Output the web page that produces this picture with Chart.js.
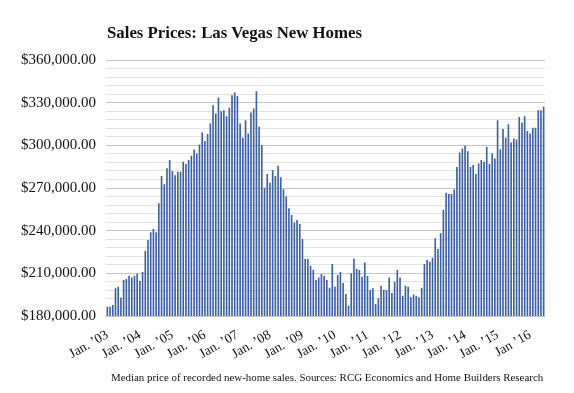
<!DOCTYPE html>
<html>
<head>
<meta charset="utf-8">
<script src="https://cdn.jsdelivr.net/npm/chart.js@4.4.1/dist/chart.umd.min.js"></script>
<style>
  html, body { margin: 0; padding: 0; background: #fff; }
  #wrap { position: relative; width: 574px; height: 393px; }
  #title {
    position: absolute; left: 107px; top: 23px;
    font: bold 16.8px "Liberation Serif", Georgia, serif; color: #111;
  }
  #note {
    position: absolute; left: 111px; top: 371px;
    font: 10.9px "Liberation Serif", Georgia, serif; color: #111; white-space: nowrap;
  }
</style>
</head>
<body>
<div id="wrap">
  <canvas id="chart" width="574" height="393"></canvas>
  <div id="title">Sales Prices: Las Vegas New Homes</div>
  <div id="note">Median price of recorded new-home sales. Sources: RCG Economics and Home Builders Research</div>
</div>
<script>
// monthly categories, Jan 2003 .. Jun 2016
const firstYear = 2003
const monthCount = 162
const months = []
for (let i = 0; i < monthCount; i++) {
    const y = firstYear + Math.floor(i / 12)
    const m = (i % 12) + 1
    months.push(`${y}-${String(m).padStart(2, '0')}`)
}

// labels shown under each January
const janLabels = [
    'Jan. ’03', 'Jan. ’04', 'Jan. ’05', 'Jan. ’06', 'Jan. ’07',
    'Jan. ’08', 'Jan. ’09', 'Jan. ’10', 'Jan. ’11', 'Jan. ’12',
    'Jan. ’13', 'Jan. ’14', 'Jan. ’15', 'Jan ’16',
]

// median price (USD)
const prices = [
    // 2003
    186500, 186500, 187700, 199500, 200600, 193000, 205300, 206000, 208300, 207000, 208300, 209700,
    // 2004
    204600, 211000, 225700, 233400, 238800, 241100, 238800, 259200, 278400, 272700, 283800, 289600,
    // 2005
    281900, 279000, 281400, 281400, 288400, 286800, 289600, 292600, 297100, 294300, 300600, 309000,
    // 2006
    303000, 307900, 315400, 328200, 322400, 333600, 324000, 324700, 320500, 326400, 335200, 337200,
    // 2007
    334600, 315400, 305300, 317700, 308400, 323100, 325900, 338100, 313000, 300100, 270100, 279800,
    // 2008
    273700, 282600, 278400, 285600, 277500, 269200, 264100, 255700, 251000, 245800, 247500, 244600,
    // 2009
    234100, 220000, 220000, 215400, 212300, 205300, 207000, 209500, 208300, 205300, 199900, 216500,
    // 2010
    200600, 208800, 210900, 203200, 195500, 187200, 210000, 220500, 213300, 212300, 207600, 217700,
    // 2011
    208100, 198300, 199500, 188400, 192400, 201300, 198300, 198300, 207000, 196200, 204100, 212300,
    // 2012
    207000, 194300, 201300, 200600, 193100, 195200, 194300, 193100, 199900, 216500, 219300, 218200,
    // 2013
    221000, 234600, 227100, 238100, 254700, 266600, 265700, 265700, 269000, 284700, 295000, 297800,
    // 2014
    299700, 295900, 284700, 286100, 279800, 287300, 289600, 288400, 298900, 286800, 294300, 290800,
    // 2015
    317700, 297300, 311400, 305300, 314900, 302000, 304800, 304100, 320000, 316100, 320500, 310000,
    // 2016
    308400, 312300, 312300, 324700, 324700, 327100,
]

const barColor = '#3a60a6'
const serif = '"Liberation Serif", Georgia, serif'

const money = (v) => '$' + v.toLocaleString('en-US', { minimumFractionDigits: 2, maximumFractionDigits: 2 })

new Chart(document.getElementById('chart'), {
    type: 'bar',
    data: {
        labels: months,
        datasets: [
            {
                data: prices,
                backgroundColor: barColor,
                borderWidth: 0,
                barPercentage: 0.6,
                categoryPercentage: 1,
            },
        ],
    },
    options: {
        responsive: false,
        animation: false,
        layout: { padding: { top: 60, right: 29, bottom: 30, left: 0 } },
        plugins: { legend: { display: false }, tooltip: { enabled: false } },
        scales: {
            x: {
                grid: { display: false },
                border: { display: false },
                ticks: {
                    autoSkip: false,
                    minRotation: 30,
                    maxRotation: 30,
                    padding: 3,
                    color: '#111',
                    font: { family: serif, size: 13.5 },
                    callback: (v, i) => (i % 12 === 0 ? janLabels[i / 12] : ''),
                },
                afterFit: (s) => { s.height = 47 },
            },
            y: {
                min: 180000,
                max: 360000,
                border: { display: false },
                grid: {
                    drawTicks: false,
                    color: (c) => (c.tick.value % 30000 === 0 ? '#c4c4c4' : '#e3e3e3'),
                },
                ticks: {
                    stepSize: 6000,
                    autoSkip: false,
                    padding: 10,
                    color: '#111',
                    font: { family: serif, size: 15 },
                    callback: (v) => (v % 30000 === 0 ? money(v) : ''),
                },
                afterFit: (s) => { s.width = 106 },
            },
        },
    },
})
</script>
</body>
</html>
